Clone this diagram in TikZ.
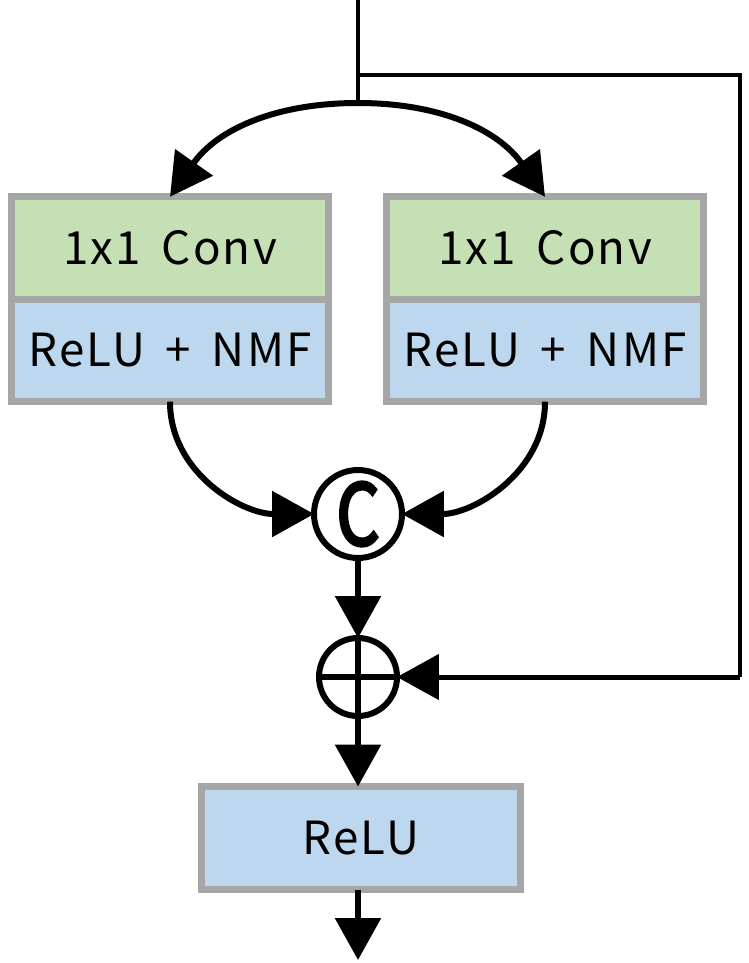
\documentclass[tikz,border=0pt]{standalone}
\usepackage{fontspec}
\setmainfont{Noto Sans CJK SC}
\newfontfamily\cellfont{Noto Sans CJK SC}[LetterSpace=5]
\newfontfamily\opfont{Noto Sans CJK SC}[FakeBold=4]
\usetikzlibrary{arrows.meta}

\newcommand\celltext{\cellfont\fontsize{26}{30}\selectfont\spaceskip=0.45em\relax}

\definecolor{convgreen}{HTML}{C5E0B4}
\definecolor{nmfblue}{HTML}{BDD7EE}
\definecolor{cellgray}{HTML}{A6A6A6}

\tikzset{
  cellbase/.style={
    draw=cellgray, line width=0.14cm,
    minimum width=6.34cm, minimum height=2.05cm,
    inner sep=0pt, font=\celltext
  },
  convcell/.style={cellbase, fill=convgreen},
  nmfcell/.style={cellbase, fill=nmfblue},
  opcircle/.style={
    circle, draw=black, line width=0.12cm,
    fill=white, inner sep=0pt
  },
  flow/.style={line width=0.12cm, -{Triangle[length=0.84cm,width=0.9cm]}},
  feedline/.style={line width=0.07cm},
}

\begin{document}
\begin{tikzpicture}[x=0.02cm, y=-0.02cm, every node/.style={outer sep=0pt}]

\useasboundingbox (0,0) rectangle (749,963);

\def\xL{170}
\def\xR{545}
\def\xM{358}

%% input and skip branch
\coordinate (in) at (\xM,0);
\coordinate (skip) at (\xM,75);
\coordinate (split) at (\xM,103);
\coordinate (corner1) at (740,75);
\coordinate (corner2) at (740,677);
\coordinate (out) at (\xM,960);

%% two branches
\node[convcell] (conv1) at (\xL,248) {1x1 Conv};
\node[nmfcell, anchor=north] (nmf1) at (conv1.south) {ReLU + NMF};

\node[convcell] (conv2) at (\xR,248) {1x1 Conv};
\node[nmfcell, anchor=north] (nmf2) at (conv2.south) {ReLU + NMF};

%% concat and add
\node[opcircle, minimum size=1.76cm, font=\opfont\fontsize{48}{48}\selectfont]
  (concat) at (\xM,514) {\scalebox{0.8}[1]{C}};

\node[opcircle, minimum size=1.56cm,
  path picture={
    \draw[line width=0.12cm]
      (path picture bounding box.north) -- (path picture bounding box.south)
      (path picture bounding box.west) -- (path picture bounding box.east);
  }] (add) at (\xM,677) {};

%% output ReLU
\node[nmfcell, minimum width=6.4cm, minimum height=2.06cm] (relu) at (361,838) {ReLU};

%% connectors
\draw[feedline] (in) -- (split);
\draw[flow] (split) to[out=180,in=55] (conv1.north);
\draw[flow] (split) to[out=0,in=125] (conv2.north);

\draw[flow] (nmf1.south) to[out=-90,in=180] (concat.west);
\draw[flow] (nmf2.south) to[out=-90,in=0] (concat.east);

\draw[flow] (concat.south) -- (add.north);
\draw[feedline] (skip) -- (corner1) -- (corner2);
\draw[flow, line width=0.1cm] (corner2) -- (add.east);

\draw[flow] (add.south) -- (relu.north -| add.south);
\draw[flow] (relu.south -| add.south) -- (out);

\end{tikzpicture}
\end{document}
